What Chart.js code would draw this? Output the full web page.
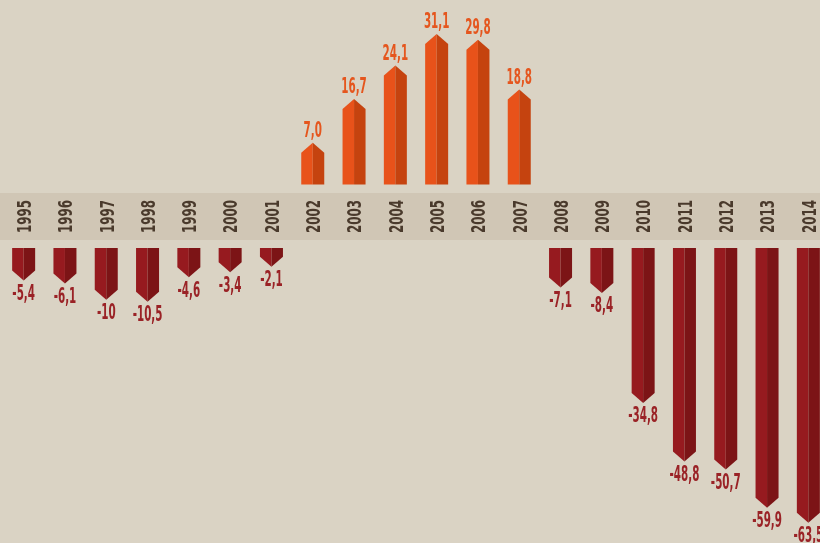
<!DOCTYPE html>
<html>
<head>
<meta charset="utf-8">
<script src="https://cdn.jsdelivr.net/npm/chart.js@4.4.1/dist/chart.umd.min.js"></script>
<style>
  html, body { margin: 0; padding: 0; background: #dad3c4; overflow: hidden; width: 820px; height: 543px; }
  #wrap { position: relative; width: 829px; height: 543px; }
</style>
</head>
<body>
<div id="wrap"><canvas id="c"></canvas></div>
<script>
const years = ['1995','1996','1997','1998','1999','2000','2001','2002','2003','2004',
               '2005','2006','2007','2008','2009','2010','2011','2012','2013','2014'];
const values = [-5.4, -6.1, -10, -10.5, -4.6, -3.4, -2.1, 7.0, 16.7, 24.1,
                31.1, 29.8, 18.8, -7.1, -8.4, -34.8, -48.8, -50.7, -59.9, -63.5];
const valueLabels = ['-5,4','-6,1','-10','-10,5','-4,6','-3,4','-2,1','7,0','16,7','24,1',
                     '31,1','29,8','18,8','-7,1','-8,4','-34,8','-48,8','-50,7','-59,9','-63,5'];

const positives = values.map(v => v > 0 ? v : null);
const negatives = values.map(v => v < 0 ? v : null);

const BG = '#dad3c4';
const BAND = '#d0c6b5';
const YEAR_COLOR = '#4a3a2c';
const POS_L = '#e8521a', POS_R = '#c5430f', POS_TXT = '#e5561e';
const NEG_L = '#961a1f', NEG_R = '#7c1416', NEG_TXT = '#9a2226';
const FONT = "'Liberation Sans Narrow', 'DejaVu Sans Condensed', 'Roboto Condensed', sans-serif";
const TIP = 10;

function condensedScale(ctx, font, digitTarget) {
  ctx.save();
  ctx.font = font;
  const w = ctx.measureText('0').width;
  ctx.restore();
  return Math.min(1, digitTarget / w);
}

const arrowPlugin = {
  id: 'arrows',
  beforeDraw(chart) {
    const ctx = chart.ctx;
    const yp = chart.scales.y, yn = chart.scales.yNeg, x = chart.scales.x;
    ctx.save();
    ctx.fillStyle = BG;
    ctx.fillRect(0, 0, chart.width, chart.height);
    const top = yp.getPixelForValue(0) + 8.5;
    const bot = yn.getPixelForValue(0) - 8;
    ctx.fillStyle = BAND;
    ctx.fillRect(0, top, chart.width, bot - top);
    const mid = (top + bot) / 2;
    const ySize = 20;
    const yFont = 'bold ' + ySize + 'px ' + FONT;
    const sx = condensedScale(ctx, yFont, 8.3);
    ctx.fillStyle = YEAR_COLOR;
    ctx.font = yFont;
    ctx.textAlign = 'center';
    ctx.textBaseline = 'alphabetic';
    const capH = ySize * 0.73;
    years.forEach((yr, i) => {
      const px = x.getPixelForValue(i);
      ctx.save();
      ctx.translate(px, mid);
      ctx.rotate(-Math.PI / 2);
      ctx.scale(sx, 1);
      ctx.fillText(yr, 0, capH / 2);
      ctx.restore();
    });
    ctx.restore();
  },
  afterDatasetsDraw(chart) {
    const ctx = chart.ctx;
    const size = 21;
    const vFont = 'bold ' + size + 'px ' + FONT;
    const sx = condensedScale(ctx, vFont, 7.2);
    ctx.save();
    chart.data.datasets.forEach((ds, di) => {
      const meta = chart.getDatasetMeta(di);
      const isPos = di === 0;
      meta.data.forEach((el, i) => {
        const v = ds.data[i];
        if (v === null || v === undefined) return;
        const cx = el.x, w = el.width, half = w / 2;
        const y = el.y, base = el.base;
        const dir = isPos ? -1 : 1;
        const tip = y + dir * TIP;
        ctx.fillStyle = isPos ? POS_L : NEG_L;
        ctx.beginPath();
        ctx.moveTo(cx - half, base);
        ctx.lineTo(cx - half, y);
        ctx.lineTo(cx, tip);
        ctx.lineTo(cx, base);
        ctx.closePath();
        ctx.fill();
        ctx.fillStyle = isPos ? POS_R : NEG_R;
        ctx.beginPath();
        ctx.moveTo(cx, base);
        ctx.lineTo(cx, tip);
        ctx.lineTo(cx + half, y);
        ctx.lineTo(cx + half, base);
        ctx.closePath();
        ctx.fill();
        ctx.font = vFont;
        ctx.textAlign = 'center';
        ctx.textBaseline = 'alphabetic';
        ctx.fillStyle = isPos ? POS_TXT : NEG_TXT;
        const capH = size * 0.73;
        const ty = isPos ? tip - 6 : tip + 4 + capH;
        ctx.save();
        ctx.translate(cx, ty);
        ctx.scale(sx, 1);
        ctx.fillText(valueLabels[i], 0, 0);
        ctx.restore();
      });
    });
    ctx.restore();
  }
};

const posScale = 4.52, posZero = 184.5;
const negScale = 4.17, negZero = 248;
const H = 543;

new Chart(document.getElementById('c'), {
  type: 'bar',
  data: {
    labels: years,
    datasets: [
      { data: positives, yAxisID: 'y', backgroundColor: 'rgba(0,0,0,0)', grouped: false,
        barPercentage: 0.557, categoryPercentage: 1 },
      { data: negatives, yAxisID: 'yNeg', backgroundColor: 'rgba(0,0,0,0)', grouped: false,
        barPercentage: 0.557, categoryPercentage: 1 }
    ]
  },
  options: {
    responsive: true,
    maintainAspectRatio: false,
    animation: false,
    layout: { padding: { left: 3, right: 0, top: 0, bottom: 0 } },
    plugins: { legend: { display: false }, tooltip: { enabled: false } },
    scales: {
      x: { display: false, offset: true },
      y: { display: false, min: posZero / posScale - H / posScale, max: posZero / posScale },
      yNeg: { display: false, position: 'left', min: negZero / negScale - H / negScale, max: negZero / negScale }
    }
  },
  plugins: [arrowPlugin]
});
</script>
</body>
</html>
